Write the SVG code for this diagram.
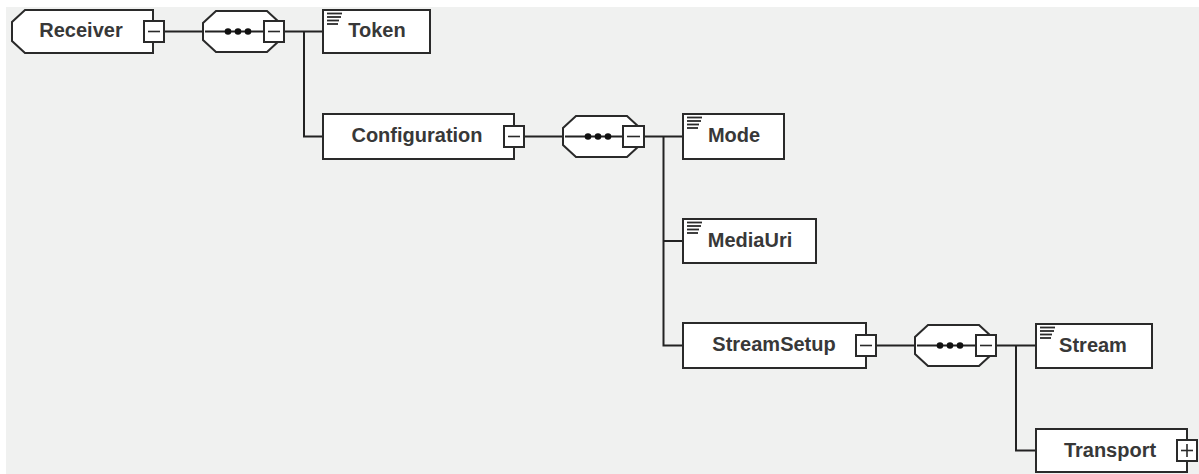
<svg xmlns="http://www.w3.org/2000/svg" width="1199" height="474" viewBox="0 0 1199 474">
<defs>
<style>
.bg{fill:#f0f1f0}
.box{fill:#fff;stroke:#2a2a2a;stroke-width:2}
.seq{fill:#fff;stroke:#2a2a2a;stroke-width:2}
.btn{fill:#fff;stroke:#2a2a2a;stroke-width:2}
.btnline{stroke:#2a2a2a;stroke-width:1.6;fill:none}
.conn{stroke:#222;stroke-width:2;fill:none}
.dot{fill:#111}
.icon{stroke:#2a2a2a;stroke-width:1.8}
.lbl{font-family:"Liberation Sans",Arial,sans-serif;font-weight:bold;font-size:20px;fill:#383838;text-anchor:middle}
</style>
<g id="textIcon">
<line class="icon" x1="0" y1="0" x2="15" y2="0"/>
<line class="icon" x1="0" y1="3.5" x2="14" y2="3.5"/>
<line class="icon" x1="0" y1="7" x2="12" y2="7"/>
<line class="icon" x1="0" y1="10.5" x2="11" y2="10.5"/>
</g>
</defs>
<rect class="bg" x="6" y="7" width="1193" height="467"/>

<g id="connectors">
<line class="conn" x1="164" y1="31.5" x2="203" y2="31.5"/>
<line class="conn" x1="284" y1="31.5" x2="323" y2="31.5"/>
<polyline class="conn" points="304,31.5 304,136.5 323,136.5"/>
<line class="conn" x1="524" y1="136.5" x2="563" y2="136.5"/>
<line class="conn" x1="644" y1="136.5" x2="683" y2="136.5"/>
<polyline class="conn" points="663.5,136.5 663.5,345.5 683,345.5"/>
<line class="conn" x1="663.5" y1="241" x2="683" y2="241"/>
<line class="conn" x1="876" y1="345.5" x2="915" y2="345.5"/>
<line class="conn" x1="996" y1="345.5" x2="1036" y2="345.5"/>
<polyline class="conn" points="1016,345.5 1016,450.5 1036,450.5"/>
</g>

<g id="Receiver">
<path class="box" d="M25,10 H153 V53 H25 L12,41 V22 Z"/>
<text class="lbl" x="81" y="36.5">Receiver</text>
<rect class="btn" x="144" y="21" width="20" height="21"/>
<line class="btnline" x1="148" y1="31.5" x2="160" y2="31.5"/>
</g>

<g id="seq1">
<path class="seq" d="M216,11 H267 L280,23 V40 L267,52 H216 L203,40 V23 Z"/>
<line class="conn" x1="205" y1="31.5" x2="264" y2="31.5"/>
<circle class="dot" cx="228" cy="31.5" r="3.3"/>
<circle class="dot" cx="238" cy="31.5" r="3.3"/>
<circle class="dot" cx="248" cy="31.5" r="3.3"/>
<rect class="btn" x="264" y="21" width="20" height="21"/>
<line class="btnline" x1="268" y1="31.5" x2="280" y2="31.5"/>
</g>

<g id="Token">
<rect class="box" x="323" y="10" width="107" height="43"/>
<use href="#textIcon" x="327" y="13.5"/>
<text class="lbl" x="377" y="36.5">Token</text>
</g>

<g id="Configuration">
<rect class="box" x="323" y="114" width="191" height="45"/>
<text class="lbl" x="417" y="142">Configuration</text>
<rect class="btn" x="504" y="126" width="20" height="21"/>
<line class="btnline" x1="508" y1="136.5" x2="520" y2="136.5"/>
</g>

<g id="seq2">
<path class="seq" d="M576,116 H627 L640,128 V145 L627,157 H576 L563,145 V128 Z"/>
<line class="conn" x1="565" y1="136.5" x2="623" y2="136.5"/>
<circle class="dot" cx="588" cy="136.5" r="3.3"/>
<circle class="dot" cx="598" cy="136.5" r="3.3"/>
<circle class="dot" cx="608" cy="136.5" r="3.3"/>
<rect class="btn" x="623" y="126" width="21" height="21"/>
<line class="btnline" x1="627" y1="136.5" x2="640" y2="136.5"/>
</g>

<g id="Mode">
<rect class="box" x="683" y="114" width="101" height="45"/>
<use href="#textIcon" x="687" y="117.5"/>
<text class="lbl" x="734" y="142">Mode</text>
</g>

<g id="MediaUri">
<rect class="box" x="683" y="219" width="133" height="44"/>
<use href="#textIcon" x="687" y="222.5"/>
<text class="lbl" x="750" y="247">MediaUri</text>
</g>

<g id="StreamSetup">
<rect class="box" x="683" y="323" width="183" height="45"/>
<text class="lbl" x="774" y="351">StreamSetup</text>
<rect class="btn" x="856" y="335" width="20" height="21"/>
<line class="btnline" x1="860" y1="345.5" x2="872" y2="345.5"/>
</g>

<g id="seq3">
<path class="seq" d="M928,325 H979 L992,337 V354 L979,366 H928 L915,354 V337 Z"/>
<line class="conn" x1="917" y1="345.5" x2="976" y2="345.5"/>
<circle class="dot" cx="940" cy="345.5" r="3.3"/>
<circle class="dot" cx="950" cy="345.5" r="3.3"/>
<circle class="dot" cx="960" cy="345.5" r="3.3"/>
<rect class="btn" x="976" y="335" width="20" height="21"/>
<line class="btnline" x1="980" y1="345.5" x2="992" y2="345.5"/>
</g>

<g id="Stream">
<rect class="box" x="1036" y="324" width="116" height="44"/>
<use href="#textIcon" x="1040" y="327.5"/>
<text class="lbl" x="1093" y="352">Stream</text>
</g>

<g id="Transport">
<rect class="box" x="1036" y="429" width="151" height="43"/>
<text class="lbl" x="1110" y="457">Transport</text>
<rect class="btn" x="1177" y="440" width="20" height="21"/>
<line class="btnline" x1="1181" y1="450.5" x2="1193" y2="450.5"/>
<line class="btnline" x1="1187" y1="444" x2="1187" y2="457"/>
</g>
</svg>
